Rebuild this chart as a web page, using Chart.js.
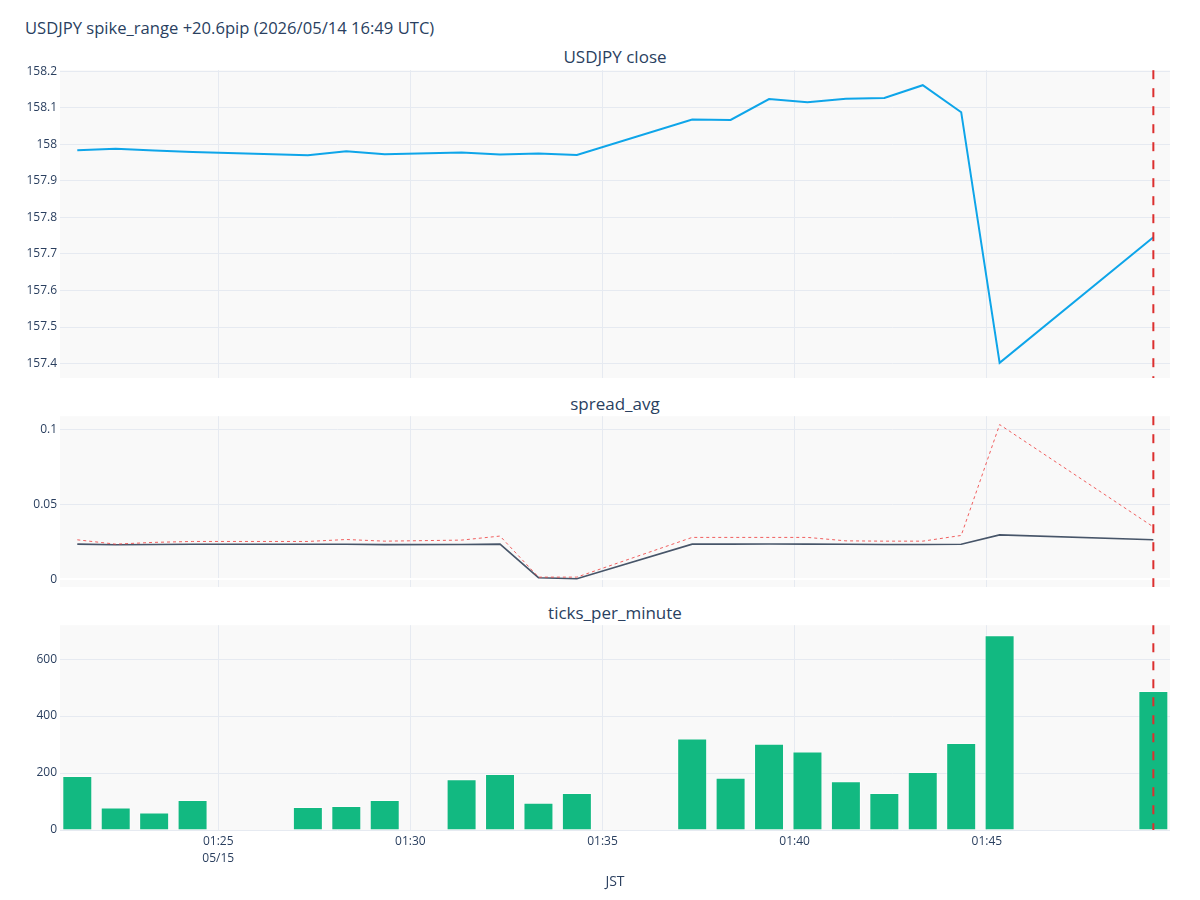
<!DOCTYPE html>
<html><head><meta charset="utf-8">
<script src="https://cdn.jsdelivr.net/npm/chart.js@4.4.1/dist/chart.umd.min.js"></script>
<style>
html,body{margin:0;padding:0;background:#fff;}
#wrap{position:relative;width:1200px;height:900px;font-family:"Open Sans",sans-serif;color:#2a3f5f;overflow:hidden;}
.t{position:absolute;white-space:nowrap;line-height:1;}
.sub{left:615px;transform:translateX(-50%);font-size:17px;}
canvas{position:absolute;left:0;}
</style></head><body>
<div id="wrap">
<div class="t" style="left:25px;top:20px;font-size:16.6px;">USDJPY spike_range +20.6pip (2026/05/14 16:49 UTC)</div>
<div class="t sub" style="top:48px;">USDJPY close</div>
<div class="t sub" style="top:395px;">spread_avg</div>
<div class="t sub" style="top:604px;">ticks_per_minute</div>
<canvas id="c1" width="1200" height="330" style="top:60px"></canvas>
<canvas id="c2" width="1200" height="193" style="top:406px"></canvas>
<canvas id="c3" width="1200" height="285" style="top:615px"></canvas>
</div>
<script>
// ---- data ----
const times = ['01:21:20','01:22:20','01:23:20','01:24:20','01:27:20','01:28:20','01:29:20','01:31:20','01:32:20','01:33:20','01:34:20','01:37:20','01:38:20','01:39:20','01:40:20','01:41:20','01:42:20','01:43:20','01:44:20','01:45:20','01:49:20'];
const closeVals = [157.984,157.988,157.983,157.979,157.970,157.981,157.973,157.978,157.972,157.975,157.971,158.068,158.067,158.124,158.115,158.125,158.127,158.162,158.088,157.402,157.746];
const spreadAvg = [0.0235,0.0231,0.0233,0.0234,0.0234,0.0234,0.0232,0.0233,0.0235,0.0011,0.0004,0.0235,0.0235,0.0236,0.0235,0.0234,0.0233,0.0233,0.0234,0.0297,0.0264];
const spreadMax = [0.0264,0.0235,0.0247,0.0253,0.0253,0.0266,0.0255,0.0262,0.0289,0.0015,0.0015,0.0280,0.0280,0.0280,0.0280,0.0257,0.0255,0.0255,0.0293,0.1033,0.0350];
const ticksPerMin = [190,79,61,105,81,84,105,178,197,96,130,321,183,303,276,171,130,204,305,684,488];
const eventTime = '01:49:20';
const xTickLabels = ['01:25','01:30','01:35','01:40','01:45'];
const xDateLabel = '05/15';
const xRange = ['01:20:53','01:49:46'];
const closeTicks = [157.4,157.5,157.6,157.7,157.8,157.9,158,158.1,158.2];
const closeRange = [157.3605,158.203];
const spreadTicks = [0,0.05,0.1];
const spreadRange = [-0.0051,0.1089];
const tickTicks = [0,200,400,600];
const tickRange = [0,719];

// ---- helpers ----
function toMin(s){const p=s.split(':').map(Number);return p[0]*60+p[1]+(p[2]||0)/60;}
const xs = times.map(toMin);
const TXT='#2a3f5f', GRID='#e6eaf1', FONT='"Open Sans", sans-serif';
Chart.defaults.font.family = FONT;
Chart.defaults.color = TXT;

const bgPlugin = {id:'bg', beforeDraw(c){const a=c.chartArea,ctx=c.ctx;ctx.save();ctx.fillStyle='#f9f9f9';ctx.fillRect(a.left,a.top,a.right-a.left,a.bottom-a.top);ctx.restore();}};
const evPlugin = {id:'ev', afterDatasetsDraw(c){const a=c.chartArea,ctx=c.ctx;const x=c.scales.x.getPixelForValue(toMin(eventTime));ctx.save();ctx.strokeStyle='#dc2f2f';ctx.lineWidth=2;ctx.setLineDash([9,9]);ctx.beginPath();ctx.moveTo(x,a.top);ctx.lineTo(x,a.bottom);ctx.stroke();ctx.restore();}};

function xScale(showLabels, axisH){
  return {type:'linear', min:toMin(xRange[0]), max:toMin(xRange[1]), offset:false,
    afterBuildTicks(s){s.ticks = xTickLabels.map(t=>({value:toMin(t)}));},
    afterFit(s){s.height = axisH;},
    grid:{color:GRID, drawTicks:false, offset:false},
    border:{display:false},
    title:{display:showLabels, text:'JST', color:TXT, font:{size:14}, padding:{top:0,bottom:10}},
    ticks:{display:showLabels, padding:3, color:TXT, font:{size:12, lineHeight:'17px'}, maxRotation:0, autoSkip:false,
      callback(v,i){return i===0?[xTickLabels[i], xDateLabel]:xTickLabels[i];}}
  };
}
function yScale(range, tickVals, zeroWhite){
  return {min:range[0], max:range[1],
    afterBuildTicks(s){s.ticks = tickVals.map(v=>({value:v}));},
    afterFit(s){s.width = 60;},
    grid:{drawTicks:false, color:(ctx)=> (zeroWhite && ctx.tick && ctx.tick.value===0)?'#ffffff':GRID,
          lineWidth:(ctx)=> (zeroWhite && ctx.tick && ctx.tick.value===0)?2:1},
    border:{display:false},
    ticks:{padding:3, color:TXT, font:{size:12}, callback:(v)=>String(v)}
  };
}
function baseOpts(padTop, xsc, ysc){
  return {responsive:false, animation:false, devicePixelRatio:1,
    layout:{padding:{top:padTop,left:0,right:30,bottom:0}},
    plugins:{legend:{display:false}, tooltip:{enabled:false}},
    scales:{x:xsc, y:ysc}};
}
const pts = (arr)=>xs.map((x,i)=>({x, y:arr[i]}));

new Chart(document.getElementById('c1'), {
  type:'line',
  data:{datasets:[{data:pts(closeVals), borderColor:'#0ea5e9', borderWidth:2, pointRadius:0, tension:0, fill:false}]},
  options: baseOpts(10, xScale(false, 12), yScale(closeRange, closeTicks, false)),
  plugins:[bgPlugin, evPlugin]
});
new Chart(document.getElementById('c2'), {
  type:'line',
  data:{datasets:[
    {data:pts(spreadMax), borderColor:'rgba(239,68,68,0.85)', borderWidth:1, borderDash:[3,3], pointRadius:0, tension:0, fill:false},
    {data:pts(spreadAvg), borderColor:'#475569', borderWidth:1.6, pointRadius:0, tension:0, fill:false}
  ]},
  options: baseOpts(10, xScale(false, 12), yScale(spreadRange, spreadTicks, true)),
  plugins:[bgPlugin, evPlugin]
});
new Chart(document.getElementById('c3'), {
  type:'bar',
  data:{datasets:[{data:pts(ticksPerMin), backgroundColor:'#12b981', borderColor:'rgba(255,255,255,0.55)', borderWidth:1, barPercentage:0.78, categoryPercentage:1}]},
  options: baseOpts(10, xScale(true, 70), yScale(tickRange, tickTicks, false)),
  plugins:[bgPlugin, evPlugin]
});
</script>
</body></html>
